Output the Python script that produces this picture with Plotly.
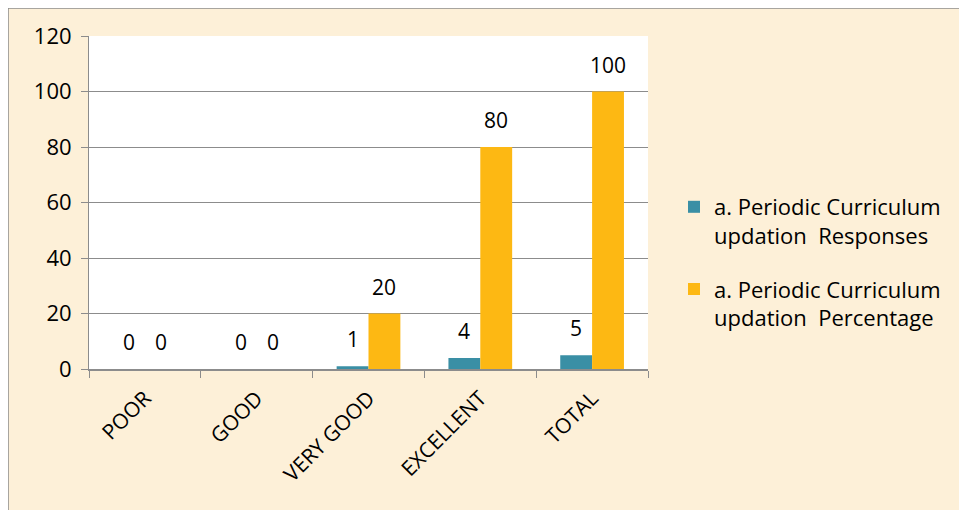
import plotly.graph_objects as go

categories = ["POOR", "GOOD", "VERY GOOD", "EXCELLENT", "TOTAL"]
responses = [0, 0, 1, 4, 5]
percentage = [0, 0, 20, 80, 100]
series_names = ["a. Periodic Curriculum<br>updation  Responses",
                "a. Periodic Curriculum<br>updation  Percentage"]
y_ticks = [0, 20, 40, 60, 80, 100, 120]

TEAL = "#3A8FA5"
ORANGE = "#FDB813"
FONT = "Open Sans, sans-serif"

# page body adds an 8px margin; lay out in screen pixels minus that offset
OFF = 8
W, H = 967 - OFF, 510 - OFF
L, R, T, B = 89 - OFF, 648 - OFF, 36 - OFF, 369 - OFF

fig = go.Figure()
fig.add_trace(go.Bar(x=categories, y=responses, name=series_names[0],
                     marker=dict(color=TEAL, line=dict(width=0)),
                     legendgroup="a"))
fig.add_trace(go.Bar(x=categories, y=percentage, name=series_names[1],
                     marker=dict(color=ORANGE, line=dict(width=0)),
                     legendgroup="b"))

bar_half = (1 - 0.43) / 4
annotations = []
for i, c in enumerate(categories):
    for vals, sign in ((responses, -1), (percentage, 1)):
        annotations.append(dict(x=i + sign * bar_half, y=vals[i], xref="x", yref="y",
                                text=str(vals[i]), showarrow=False,
                                yanchor="middle", yshift=27,
                                font=dict(family=FONT, size=21, color="#000")))

pw = R - L
ph = B - T
shapes = [
    dict(type="rect", xref="paper", yref="paper",
         x0=(0 - L) / pw, x1=(W + 20 - L) / pw,
         y0=(B - (H + 20)) / ph, y1=(B - 0) / ph,
         fillcolor="#FDF0D8", line=dict(color="#8C8C8C", width=1.5), layer="below"),
    dict(type="rect", xref="paper", yref="paper", x0=0, x1=1, y0=0, y1=1,
         fillcolor="white", line=dict(width=0), layer="below"),
]

fig.update_layout(
    width=W, height=H,
    margin=dict(l=L, r=W - R, t=T, b=H - B),
    paper_bgcolor="white",
    plot_bgcolor="rgba(0,0,0,0)",
    barmode="group", bargap=0.43, bargroupgap=0,
    font=dict(family=FONT, size=21, color="#000"),
    showlegend=True,
    legend=dict(x=(674 - OFF - L) / pw, y=(B - (186 - OFF)) / ph, xanchor="left", yanchor="top",
                bgcolor="rgba(0,0,0,0)", font=dict(family=FONT, size=22, color="#000"),
                valign="top", tracegroupgap=22),
    annotations=annotations,
    shapes=shapes,
)
fig.update_yaxes(range=[0, 120], tickvals=y_ticks, showgrid=True, gridcolor="#8C8C8C",
                 gridwidth=1, showline=True, linecolor="#8C8C8C", linewidth=1,
                 ticks="outside", ticklen=7, tickcolor="#8C8C8C", ticklabelstandoff=5,
                 tickfont=dict(family=FONT, size=22), zeroline=False, fixedrange=True)
fig.update_xaxes(showline=True, linecolor="#8C8C8C", linewidth=1.5,
                 ticks="outside", ticklen=7, tickcolor="#8C8C8C", tickson="boundaries",
                 tickangle=-45, ticklabelstandoff=7,
                 tickfont=dict(family=FONT, size=21), fixedrange=True)

fig.write_html("out.html")
